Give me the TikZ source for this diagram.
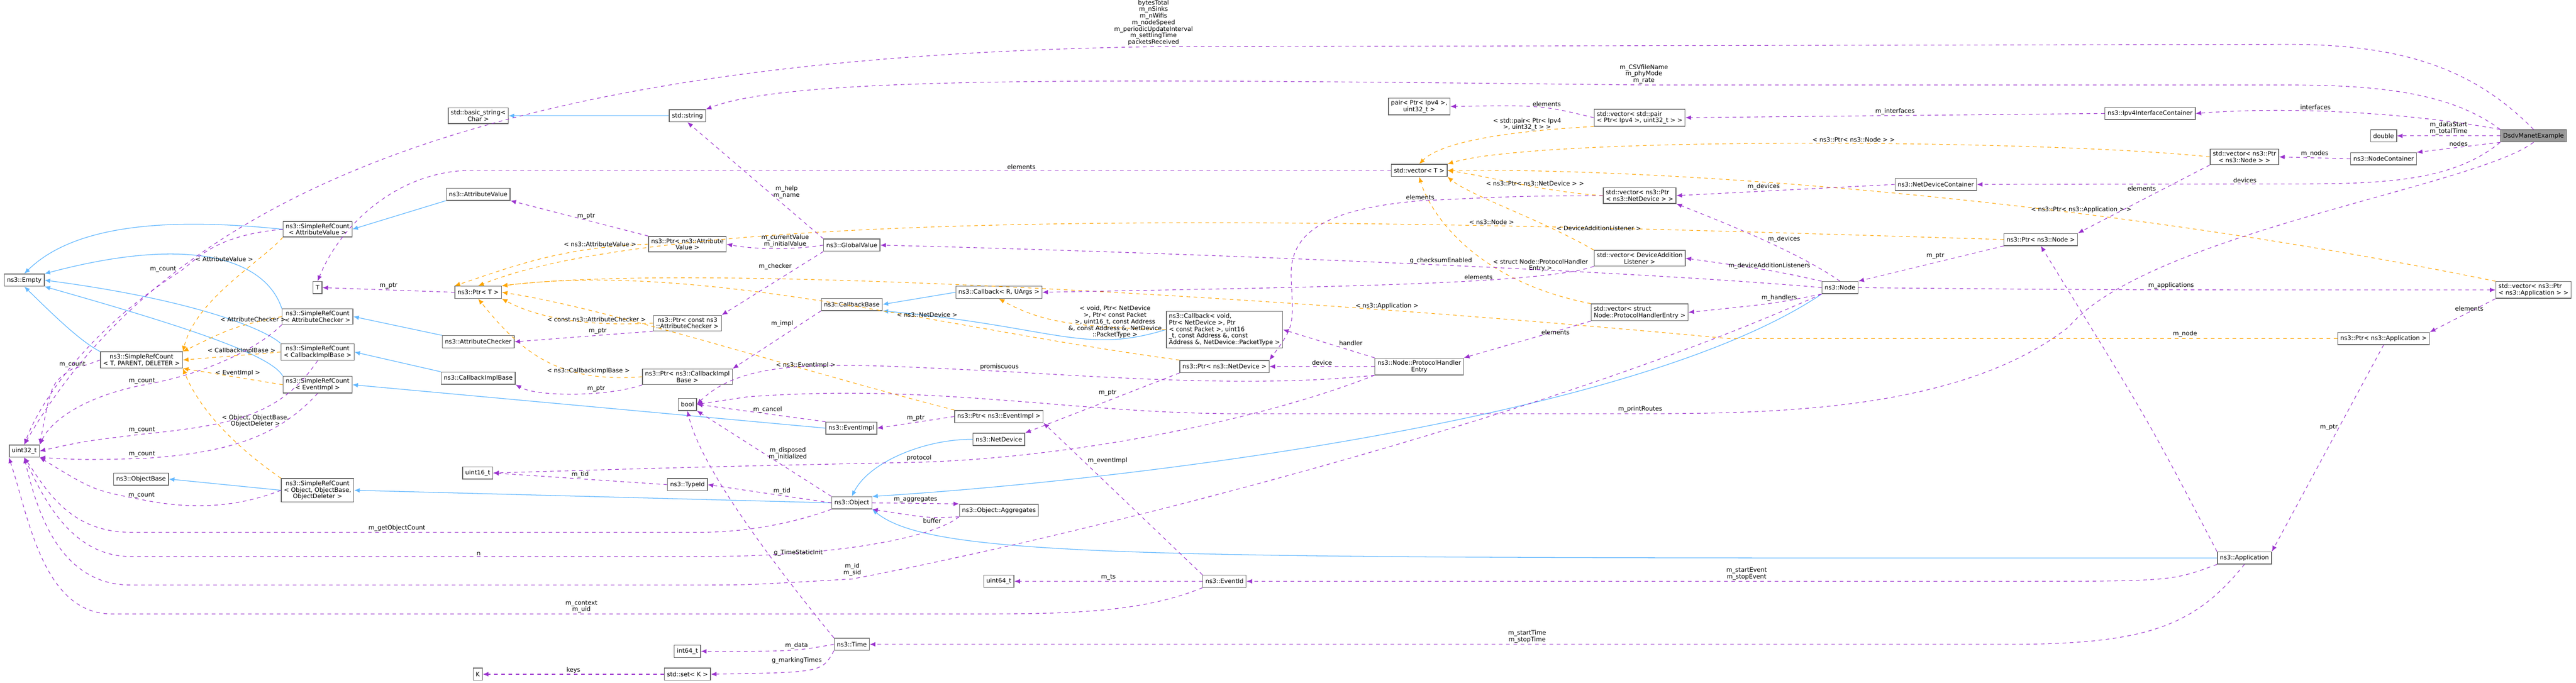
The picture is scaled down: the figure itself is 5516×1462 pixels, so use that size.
\documentclass[tikz,border=0pt]{standalone}
\usepackage{fontspec}
\setmainfont{DejaVu Sans}
\usetikzlibrary{arrows.meta}
\definecolor{usecol}{HTML}{9A32CD}
\definecolor{tplcol}{HTML}{FFA500}
\definecolor{inhcol}{HTML}{63B8FF}
\tikzset{
  cls/.style={draw=black!60, line width=0.45pt, fill=white, inner xsep=1.6pt, inner ysep=1.3pt,
    minimum height=0.26cm, align=center, font=\fontsize{3.7}{4.0}\selectfont},
  lbl/.style={font=\fontsize{3.7}{4.0}\selectfont, align=center, inner sep=0.6pt, text=black},
  uses/.style={draw=usecol, dash pattern=on 2.2pt off 2.2pt, line width=0.35pt,
    -{Latex[length=3.4pt,width=2.8pt]}},
  tpl/.style={uses, draw=tplcol},
  inh/.style={draw=inhcol, line width=0.4pt, -{Latex[length=3.4pt,width=2.8pt]}},
}
\begin{document}
\begin{tikzpicture}[x=0.01cm,y=-0.01cm]
\useasboundingbox (0,0) rectangle (5516,1462);

% left column
\node[cls] (emptyc) at (52,600) {ns3::Empty};
\node[cls] (uintt) at (52,966) {uint32\_t};
\node[cls] (srcTPD) at (303,771) {ns3::SimpleRefCount\\{}< T, PARENT, DELETER >};
\node[cls] (objBase) at (302,1026) {ns3::ObjectBase};
\node[cls] (srcAV) at (680,491) {ns3::SimpleRefCount\\{}< AttributeValue >};
\node[cls] (Tc) at (680,616) {T};
\node[cls] (srcAC) at (680,678) {ns3::SimpleRefCount\\{}< AttributeChecker >};
\node[cls] (srcCB) at (680,754) {ns3::SimpleRefCount\\{}< CallbackImplBase >};
\node[cls] (srcEI) at (680,824) {ns3::SimpleRefCount\\{}< EventImpl >};
\node[cls] (srcObj) at (680,1050) {ns3::SimpleRefCount\\{}< Object, ObjectBase,\\ObjectDeleter >};

% second column
\node[cls] (bstr) at (1024,248) {std::basic\_string<\\Char >};
\node[cls] (attrVal) at (1024,416) {ns3::AttributeValue};
\node[cls] (ptrT) at (1024,626) {ns3::Ptr< T >};
\node[cls] (attrChk) at (1024,732) {ns3::AttributeChecker};
\node[cls] (cbImpl) at (1024,810) {ns3::CallbackImplBase};
\node[cls] (uint16) at (1023,1013) {uint16\_t};
\node[cls] (Kc) at (1023,1444) {K};

% third column
\node[cls] (strc) at (1472,248) {std::string};
\node[cls] (ptrAV) at (1472,523) {ns3::Ptr< ns3::Attribute\\Value >};
\node[cls] (ptrAC) at (1472,692) {ns3::Ptr< const ns3\\::AttributeChecker >};
\node[cls] (ptrCB) at (1472,807) {ns3::Ptr< ns3::CallbackImpl\\Base >};
\node[cls] (boolc) at (1472,866) {bool};
\node[cls] (typeId) at (1472,1038) {ns3::TypeId};
\node[cls] (int64) at (1472,1395) {int64\_t};
\node[cls] (setK) at (1472,1444) {std::set< K >};

% fourth column
\node[cls] (glob) at (1824,525) {ns3::GlobalValue};
\node[cls] (cbBase) at (1824,652) {ns3::CallbackBase};
\node[cls] (eventImpl) at (1823,917) {ns3::EventImpl};
\node[cls] (objc) at (1824,1077) {ns3::Object};
\node[cls] (timec) at (1824,1380) {ns3::Time};

% fifth column
\node[cls] (cbRU) at (2139,626) {ns3::Callback< R, UArgs >};
\node[cls] (ptrEI) at (2139,892) {ns3::Ptr< ns3::EventImpl >};
\node[cls] (netDev) at (2139,941) {ns3::NetDevice};
\node[cls] (aggr) at (2139,1093) {ns3::Object::Aggregates};
\node[cls] (uint64) at (2139,1245) {uint64\_t};

% sixth column
\node[cls, align=left] (cbVoid) at (2622,706) {ns3::Callback< void,\\ Ptr< NetDevice >, Ptr\\{}< const Packet >, uint16\\\_t, const Address \&, const\\ Address \&, NetDevice::PacketType >};
\node[cls] (ptrND) at (2622,785) {ns3::Ptr< ns3::NetDevice >};
\node[cls] (eventId) at (2622,1245) {ns3::EventId};

% seventh column
\node[cls] (pairc) at (3039,228) {pair< Ptr< Ipv4 >,\\uint32\_t >};
\node[cls] (vecT) at (3039,365) {std::vector< T >};
\node[cls] (phe) at (3039,785) {ns3::Node::ProtocolHandler\\Entry};

% eighth column
\node[cls, align=left] (vecPair) at (3511,252) {std::vector< std::pair\\{}< Ptr< Ipv4 >, uint32\_t > >};
\node[cls, align=left] (vecND) at (3511,419) {std::vector< ns3::Ptr\\{}< ns3::NetDevice > >};
\node[cls] (vecDAL) at (3511,553) {std::vector< DeviceAddition\\Listener >};
\node[cls, align=left] (vecPHE) at (3511,669) {std::vector< struct\\ Node::ProtocolHandlerEntry >};

% right part
\node[cls] (nodec) at (3940,616) {ns3::Node};
\node[cls] (ndc) at (4145,395) {ns3::NetDeviceContainer};
\node[cls] (ptrNode) at (4370,513) {ns3::Ptr< ns3::Node >};
\node[cls] (ipv4c) at (4604,243) {ns3::Ipv4InterfaceContainer};
\node[cls] (vecNode) at (4806,336) {std::vector< ns3::Ptr\\{}< ns3::Node > >};
\node[cls] (appc) at (4806,1195) {ns3::Application};
\node[cls] (dbl) at (5104,291) {double};
\node[cls] (nodeCont) at (5104,340) {ns3::NodeContainer};
\node[cls] (ptrApp) at (5104,725) {ns3::Ptr< ns3::Application >};
\node[cls, fill=black!40] (dsdv) at (5425,291) {DsdvManetExample};
\node[cls, align=left] (vecApp) at (5425,621) {std::vector< ns3::Ptr\\{}< ns3::Application > >};

% inheritance
\draw[inh] (srcTPD.north west) .. controls (170,730) and (110,670) .. (emptyc.south);
\draw[inh] (srcAV.west) .. controls (400,470) and (170,470) .. (emptyc.north);
\draw[inh] (srcAC.north west) .. controls (570,560) and (420,500) .. (emptyc.north east);
\draw[inh] (srcCB.north west) .. controls (560,700) and (400,640) .. (emptyc.east);
\draw[inh] (srcEI.north west) .. controls (580,760) and (400,700) .. (emptyc.south east);
\draw[inh] (attrVal.south west) -- (srcAV.east);
\draw[inh] (attrChk.north west) -- (srcAC.east);
\draw[inh] (cbImpl.north west) -- (srcCB.east);
\draw[inh] (eventImpl.west) -- (srcEI.east);
\draw[inh] (srcObj.west) -- (objBase.east);
\draw[inh] (objc.west) -- (srcObj.east);
\draw[inh] (strc) -- (bstr);
\draw[inh] (cbRU.west) -- (cbBase.east);
\draw[inh] (cbVoid.west) .. controls (2320,760) and (2260,700) .. (cbBase.south east);
\draw[inh] (netDev.west) .. controls (1980,940) and (1860,990) .. (objc.north);
\draw[inh] (nodec.south west) .. controls (3500,900) and (2400,1030) .. (objc.north east);
\draw[inh] (appc.west) .. controls (2500,1195) and (2000,1200) .. (objc.south east);

% template instances
\draw[tpl] (srcAV.south west) .. controls (560,560) and (420,640) .. (srcTPD.north east)
  node[lbl, pos=0.3, above left] {< AttributeValue >};
\draw[tpl] (srcAC.west) .. controls (500,700) .. (srcTPD.north east)
  node[lbl, pos=0.25, above] {< AttributeChecker >};
\draw[tpl] (srcCB.west) -- (srcTPD.east) node[lbl, pos=0.4, above] {< CallbackImplBase >};
\draw[tpl] (srcEI.west) -- (srcTPD.south east) node[lbl, pos=0.45, above] {< EventImpl >};
\draw[tpl] (srcObj.north west) .. controls (480,940) and (420,860) .. (srcTPD.south east)
  node[lbl, pos=0.5, right=3pt] {< Object, ObjectBase,\\ObjectDeleter >};
\draw[tpl] (ptrAV.west) .. controls (1200,530) and (1100,570) .. (ptrT.north west)
  node[lbl, pos=0.2, above] {< ns3::AttributeValue >};
\draw[tpl] (ptrAC.west) .. controls (1250,700) and (1150,680) .. (ptrT.south east)
  node[lbl, pos=0.3, above] {< const ns3::AttributeChecker >};
\draw[tpl] (ptrCB.west) .. controls (1200,820) and (1120,760) .. (ptrT.south)
  node[lbl, pos=0.25, above] {< ns3::CallbackImplBase >};
\draw[tpl] (ptrND.north west) .. controls (2000,700) and (1500,560) .. (ptrT.north east)
  node[lbl, pos=0.35, above] {< ns3::NetDevice >};
\draw[tpl] (ptrEI.north west) .. controls (1700,790) and (1300,660) .. (ptrT.east)
  node[lbl, pos=0.3, above] {< ns3::EventImpl >};
\draw[tpl] (ptrNode.west) .. controls (3200,480) and (1500,420) .. (ptrT.north)
  node[lbl, pos=0.3, above] {< ns3::Node >};
\draw[tpl] (ptrApp.west) -- (3700,725) node[lbl, pos=0.25, above] {m\_node}
  .. controls (2800,640) and (1500,560) .. (ptrT.north east)
  node[lbl, pos=0.25, above] {< ns3::Application >};
\draw[tpl] (cbVoid.west) .. controls (2300,700) and (2230,690) .. (cbRU.south)
  node[lbl, pos=0.5, right=2pt] {< void, Ptr< NetDevice\\>, Ptr< const Packet\\>, uint16\_t, const Address\\\&, const Address \&, NetDevice\\::PacketType >};
\draw[tpl] (vecPair.south west) .. controls (3250,280) and (3090,300) .. (vecT.north)
  node[lbl, pos=0.3, above] {< std::pair< Ptr< Ipv4\\>, uint32\_t > >};
\draw[tpl] (vecND.west) .. controls (3300,410) and (3200,380) .. (vecT.east)
  node[lbl, pos=0.4, above] {< ns3::Ptr< ns3::NetDevice > >};
\draw[tpl] (vecDAL.north west) .. controls (3300,470) and (3150,420) .. (vecT.south east)
  node[lbl, pos=0.25, right=2pt] {< DeviceAdditionListener >};
\draw[tpl] (vecPHE.north west) .. controls (3150,600) and (3060,450) .. (vecT.south)
  node[lbl, pos=0.35, right] {< struct Node::ProtocolHandler\\Entry >};
\draw[tpl] (vecNode.west) .. controls (4400,300) and (3300,290) .. (vecT.north east)
  node[lbl, pos=0.45, above] {< ns3::Ptr< ns3::Node > >};
\draw[tpl] (vecApp.north west) .. controls (4500,430) and (3600,360) .. (vecT.east)
  node[lbl, pos=0.35, above] {< ns3::Ptr< ns3::Application > >};

% m_count members
\draw[uses] (srcTPD.west) .. controls (190,780) .. (155,790) node[lbl, above] {m\_count}
  .. controls (110,820) .. (uintt.north east);
\draw[uses] (srcAV.west) .. controls (450,505) and (420,560) .. (380,585) node[lbl, above left] {m\_count}
  .. controls (200,700) and (90,850) .. (uintt.north);
\draw[uses] (srcAC.south west) .. controls (560,740) and (450,800) .. (304,825) node[lbl, above] {m\_count}
  .. controls (180,850) and (110,900) .. (uintt.north east);
\draw[uses] (srcCB.south) .. controls (600,890) and (500,910) .. (304,930) node[lbl, above] {m\_count}
  .. controls (180,945) .. (uintt.east);
\draw[uses] (srcEI.south) .. controls (600,930) and (500,970) .. (304,982) node[lbl, above] {m\_count}
  .. controls (180,985) .. (uintt.south east);
\draw[uses] (srcObj.west) .. controls (500,1090) and (400,1090) .. (303,1070) node[lbl, above] {m\_count}
  .. controls (200,1050) .. (uintt.south east);

% pointers and members, left half
\draw[uses] (ptrT.west) -- (Tc.east) node[lbl, midway, above] {m\_ptr};
\draw[uses] (vecT.west) -- (1000,365) node[lbl, pos=0.4, above] {elements}
  .. controls (850,370) and (730,480) .. (Tc.north);
\draw[uses] (ptrAV.north west) -- (attrVal.south east) node[lbl, pos=0.45, above] {m\_ptr};
\draw[uses] (ptrAC.south west) -- (attrChk.east) node[lbl, pos=0.4, above] {m\_ptr};
\draw[uses] (ptrCB.south west) .. controls (1300,850) and (1150,850) .. (cbImpl.south east)
  node[lbl, pos=0.35, above] {m\_ptr};
\draw[uses] (glob.north west) -- (strc.south) node[lbl, pos=0.4, right=2pt] {m\_help\\m\_name};
\draw[uses] (glob.west) .. controls (1700,535) and (1620,535) .. (ptrAV.east)
  node[lbl, pos=0.4, above] {m\_currentValue\\m\_initialValue};
\draw[uses] (glob.south west) -- (ptrAC.north east) node[lbl, pos=0.3, above left] {m\_checker};
\draw[uses] (cbBase.south west) -- (ptrCB.north east) node[lbl, pos=0.3, above left] {m\_impl};
\draw[uses] (eventImpl.north west) -- (boolc.east) node[lbl, pos=0.45, above] {m\_cancel};
\draw[uses] (objc.north west) -- (boolc.south east) node[lbl, pos=0.5, right=2pt] {m\_disposed\\m\_initialized};
\draw[uses] (objc.west) -- (typeId.east) node[lbl, pos=0.4, above] {m\_tid};
\draw[uses] (typeId.west) -- (uint16.east) node[lbl, pos=0.5, above] {m\_tid};
\draw[uses] (objc.east) -- (aggr.north west) node[lbl, pos=0.5, above] {m\_aggregates};
\draw[uses] (aggr.south west) .. controls (1990,1110) .. (objc.south east) node[lbl, pos=0.4, below] {buffer};
\draw[uses] (objc.south west) .. controls (1700,1120) and (1600,1140) .. (1500,1140)
  -- (850,1140) node[lbl, above] {m\_getObjectCount}
  -- (280,1140) .. controls (150,1140) and (100,1050) .. (uintt.south);
\draw[uses] (aggr.south west) .. controls (2000,1150) and (1800,1192) .. (1500,1192)
  -- (1025,1192) node[lbl, above] {n}
  -- (280,1192) .. controls (150,1192) and (90,1060) .. (uintt.south);
\draw[uses] (nodec.south west) .. controls (3300,900) and (2300,1150) .. (1825,1240) node[lbl, above=1pt] {m\_id\\m\_sid}
  .. controls (1600,1253) .. (1500,1253) -- (280,1253) .. controls (130,1253) and (80,1100) .. (uintt.south);
\draw[uses] (eventId.south west) .. controls (2450,1310) and (2300,1315) .. (2100,1315)
  -- (1245,1315) node[lbl, above] {m\_context\\m\_uid}
  -- (240,1315) .. controls (90,1315) and (60,1100) .. (uintt.south west);
\draw[uses] (timec.north west) .. controls (1650,1200) and (1500,1000) .. (boolc.south)
  node[lbl, pos=0.35, right=3pt] {g\_TimeStaticInit};
\draw[uses] (timec.west) .. controls (1700,1395) .. (int64.east) node[lbl, pos=0.4, above] {m\_data};
\draw[uses] (timec.south west) .. controls (1760,1440) .. (setK.east) node[lbl, pos=0.3, above left] {g\_markingTimes};
\draw[uses] (setK.west) -- (Kc.east) node[lbl, midway, above] {keys};
\draw[uses] (eventId.west) -- (uint64.east) node[lbl, midway, above] {m\_ts};
\draw[uses] (eventId.north west) -- (ptrEI.south east) node[lbl, pos=0.75, right=2pt] {m\_eventImpl};
\draw[uses] (ptrEI.west) -- (eventImpl.east) node[lbl, midway, above] {m\_ptr};
\draw[uses] (ptrND.south west) -- (netDev.north east) node[lbl, pos=0.4, above left] {m\_ptr};

% protocol handler entry
\draw[uses] (phe.west) -- (ptrND.east) node[lbl, midway, above] {device};
\draw[uses] (phe.north west) -- (cbVoid.east) node[lbl, pos=0.4, above right] {handler};
\draw[uses] (phe.south west) .. controls (2700,830) and (2400,810) .. (2140,795) node[lbl, above] {promiscuous}
  .. controls (1800,780) and (1600,760) .. (boolc.east);
\draw[uses] (phe.south west) .. controls (2700,900) and (2300,980) .. (1968,990) node[lbl, above] {protocol}
  .. controls (1500,1000) .. (uint16.east);

% node members
\draw[uses] (nodec.west) .. controls (3500,580) and (2500,540) .. (glob.east)
  node[lbl, pos=0.45, above] {g\_checksumEnabled};
\draw[uses] (nodec.north) .. controls (3850,540) and (3700,480) .. (vecND.south east)
  node[lbl, pos=0.5, right=3pt] {m\_devices};
\draw[uses] (nodec.north west) .. controls (3800,580) .. (vecDAL.east)
  node[lbl, pos=0.5, above] {m\_deviceAdditionListeners};
\draw[uses] (nodec.south west) .. controls (3800,650) .. (vecPHE.east)
  node[lbl, pos=0.4, above] {m\_handlers};
\draw[uses] (nodec.east) .. controls (4500,621) .. (vecApp.west)
  node[lbl, pos=0.6, above] {m\_applications};
\draw[uses] (vecDAL.south west) .. controls (3300,610) and (2800,615) .. (cbRU.east)
  node[lbl, pos=0.35, above] {elements};
\draw[uses] (vecND.west) .. controls (3250,420) .. (3041,430) node[lbl, above] {elements}
  .. controls (2800,450) and (2760,520) .. (2765,600)
  .. controls (2770,700) .. (ptrND.north east);
\draw[uses] (vecPHE.south west) -- (phe.north east) node[lbl, pos=0.4, above right] {elements};
\draw[uses] (vecPair.west) .. controls (3300,225) .. (pairc.east) node[lbl, pos=0.4, above] {elements};
\draw[uses] (ipv4c.west) -- (vecPair.east) node[lbl, midway, above] {m\_interfaces};
\draw[uses] (ndc.west) -- (vecND.east) node[lbl, pos=0.6, above] {m\_devices};
\draw[uses] (nodeCont.west) -- (vecNode.east) node[lbl, midway, above] {m\_nodes};
\draw[uses] (vecNode.south west) -- (ptrNode.north east) node[lbl, pos=0.4, above left] {elements};
\draw[uses] (vecApp.south west) -- (ptrApp.north east) node[lbl, pos=0.4, above] {elements};
\draw[uses] (ptrNode.south west) -- (nodec.north east) node[lbl, pos=0.4, above left] {m\_ptr};
\draw[uses] (ptrApp.south) -- (appc.north east) node[lbl, pos=0.4, left] {m\_ptr};
\draw[uses] (appc.north west) .. controls (4600,900) .. (ptrNode.south);
\draw[uses] (appc.south west) .. controls (4650,1245) .. (4300,1245)
  -- (3740,1245) node[lbl, above] {m\_startEvent\\m\_stopEvent} -- (eventId.east);
\draw[uses] (appc.south) .. controls (4700,1340) and (4600,1380) .. (4300,1380)
  -- (3270,1380) node[lbl, above] {m\_startTime\\m\_stopTime} -- (timec.east);

% example members
\draw[uses] (dsdv.north) .. controls (5300,150) and (5150,95) .. (4900,95)
  -- (2470,100) node[lbl, above] {bytesTotal\\m\_nSinks\\m\_nWifis\\m\_nodeSpeed\\m\_periodicUpdateInterval\\m\_settlingTime\\packetsReceived}
  .. controls (1200,120) and (400,350) .. (uintt.north);
\draw[uses] (dsdv.north west) .. controls (5250,200) and (5100,182) .. (4900,182)
  -- (3520,182) node[lbl, above] {m\_CSVfileName\\m\_phyMode\\m\_rate}
  .. controls (2400,170) and (1700,160) .. (strc.north east);
\draw[uses] (dsdv.north west) .. controls (5150,240) and (4900,228) .. (ipv4c.east)
  node[lbl, pos=0.6, above] {interfaces};
\draw[uses] (dsdv.west) -- (dbl.east) node[lbl, midway, above] {m\_dataStart\\m\_totalTime};
\draw[uses] (dsdv.south west) -- (nodeCont.north east) node[lbl, pos=0.5, above] {nodes};
\draw[uses] (dsdv.south west) .. controls (5250,390) and (5100,394) .. (4900,394)
  -- (4807,394) node[lbl, above] {devices} -- (ndc.east);
\draw[uses] (dsdv.south) .. controls (5300,400) and (4600,500) .. (4430,700)
  .. controls (4200,880) and (3800,886) .. (3512,886) node[lbl, above] {m\_printRoutes}
  -- (2650,886) .. controls (2300,886) and (2000,820) .. (1600,850) -- (boolc.east);
\end{tikzpicture}
\end{document}
